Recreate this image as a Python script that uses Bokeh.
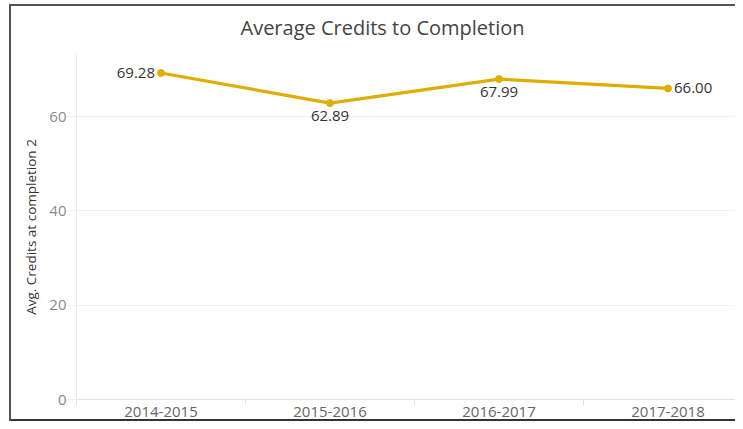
from bokeh.plotting import figure
from bokeh.models import Range1d, FixedTicker, ColumnDataSource
from bokeh.core.properties import value
from bokeh.embed import file_html
from bokeh.resources import INLINE

# ---- data ----
years = ["2014-2015", "2015-2016", "2016-2017", "2017-2018"]
avg_credits = [69.28, 62.89, 67.99, 66.00]
y_ticks = [0, 20, 40, 60]

# ---- styles / placement (not data) ----
label_side = ["left", "below", "below", "right"]
GOLD = "#E0AE00"
FONT = "Open Sans"

centers = [i + 0.5 for i in range(len(years))]
dividers = [float(i) for i in range(len(years))]

W, H = 735, 421
LEFT, TOP, BOTTOM = 76, 53, 22
p = figure(width=W, height=H, output_backend="svg", toolbar_location=None,
           x_range=Range1d(0, (W - LEFT) / 169), y_range=Range1d(0, 73.2),
           min_border_left=LEFT, min_border_right=0, min_border_top=TOP,
           min_border_bottom=BOTTOM)
p.outline_line_color = None
p.background_fill_color = None
p.border_fill_color = None
# worksheet frame (drawn as inset shadows so that layout is unchanged)
p.styles = {
    "background-color": "white",
    "box-shadow": ("inset 9px 4px 0 0 white, inset 11px 6px 0 0 #555555, "
                   "inset 0 -2px 0 0 #333333"),
}

p.title.text = "Average Credits to Completion"
p.title.align = "left"
p.title.offset = 164
p.title.standoff = 25
p.title.vertical_align = "middle"
p.title.text_font = FONT
p.title.text_font_size = "20px"
p.title.text_font_style = "normal"
p.title.text_color = "#444444"

# axes
xa = p.xaxis[0]
xa.ticker = FixedTicker(ticks=centers, minor_ticks=dividers)
xa.major_label_overrides = {c: y for c, y in zip(centers, years)}
xa.major_tick_in = 0
xa.major_tick_out = 0
xa.minor_tick_in = 0
xa.minor_tick_out = 6
xa.minor_tick_line_color = "#e3e3e3"
xa.axis_line_color = "#e3e3e3"
xa.major_label_text_font = FONT
xa.major_label_text_font_size = "15px"
xa.major_label_text_color = "#666666"
xa.major_label_standoff = 1

ya = p.yaxis[0]
ya.ticker = FixedTicker(ticks=y_ticks)
ya.major_tick_in = 0
ya.major_tick_out = 9
ya.major_tick_line_color = "#efefef"
ya.minor_tick_line_color = None
ya.axis_line_color = "#e8e8e8"
ya.major_label_text_font = FONT
ya.major_label_text_font_size = "15px"
ya.major_label_text_color = "#8a8a8a"
ya.major_label_standoff = 1
ya.axis_label = "Avg. Credits at completion 2"
ya.axis_label_text_font = FONT
ya.axis_label_text_font_size = "13.5px"
ya.axis_label_text_font_style = "normal"
ya.axis_label_text_color = "#333333"
ya.axis_label_standoff = 6

p.xgrid.visible = False
p.ygrid.grid_line_color = "#f0f0f0"
p.ygrid.ticker = FixedTicker(ticks=[t for t in y_ticks if t > 0])

src = ColumnDataSource(dict(x=centers, y=avg_credits))
p.line("x", "y", source=src, line_color=GOLD, line_width=3.2)
p.scatter("x", "y", source=src, size=7, color=GOLD)

offs = {"left": (-6, 0, "right", "middle"), "right": (6, 0, "left", "middle"),
        "below": (0, 8, "center", "top"), "above": (0, -8, "center", "bottom")}
lab = ColumnDataSource(dict(
    x=centers, y=avg_credits,
    t=[f"{v:.2f}" for v in avg_credits],
    xo=[offs[s][0] for s in label_side],
    yo=[offs[s][1] for s in label_side],
    al=[offs[s][2] for s in label_side],
    bl=[offs[s][3] for s in label_side],
))
p.text("x", "y", text="t", source=lab, x_offset="xo", y_offset="yo",
       text_align="al", text_baseline="bl", text_font=value(FONT),
       text_font_size="15px", text_color="#333333")

open("out.html", "w").write(file_html(p, INLINE))
